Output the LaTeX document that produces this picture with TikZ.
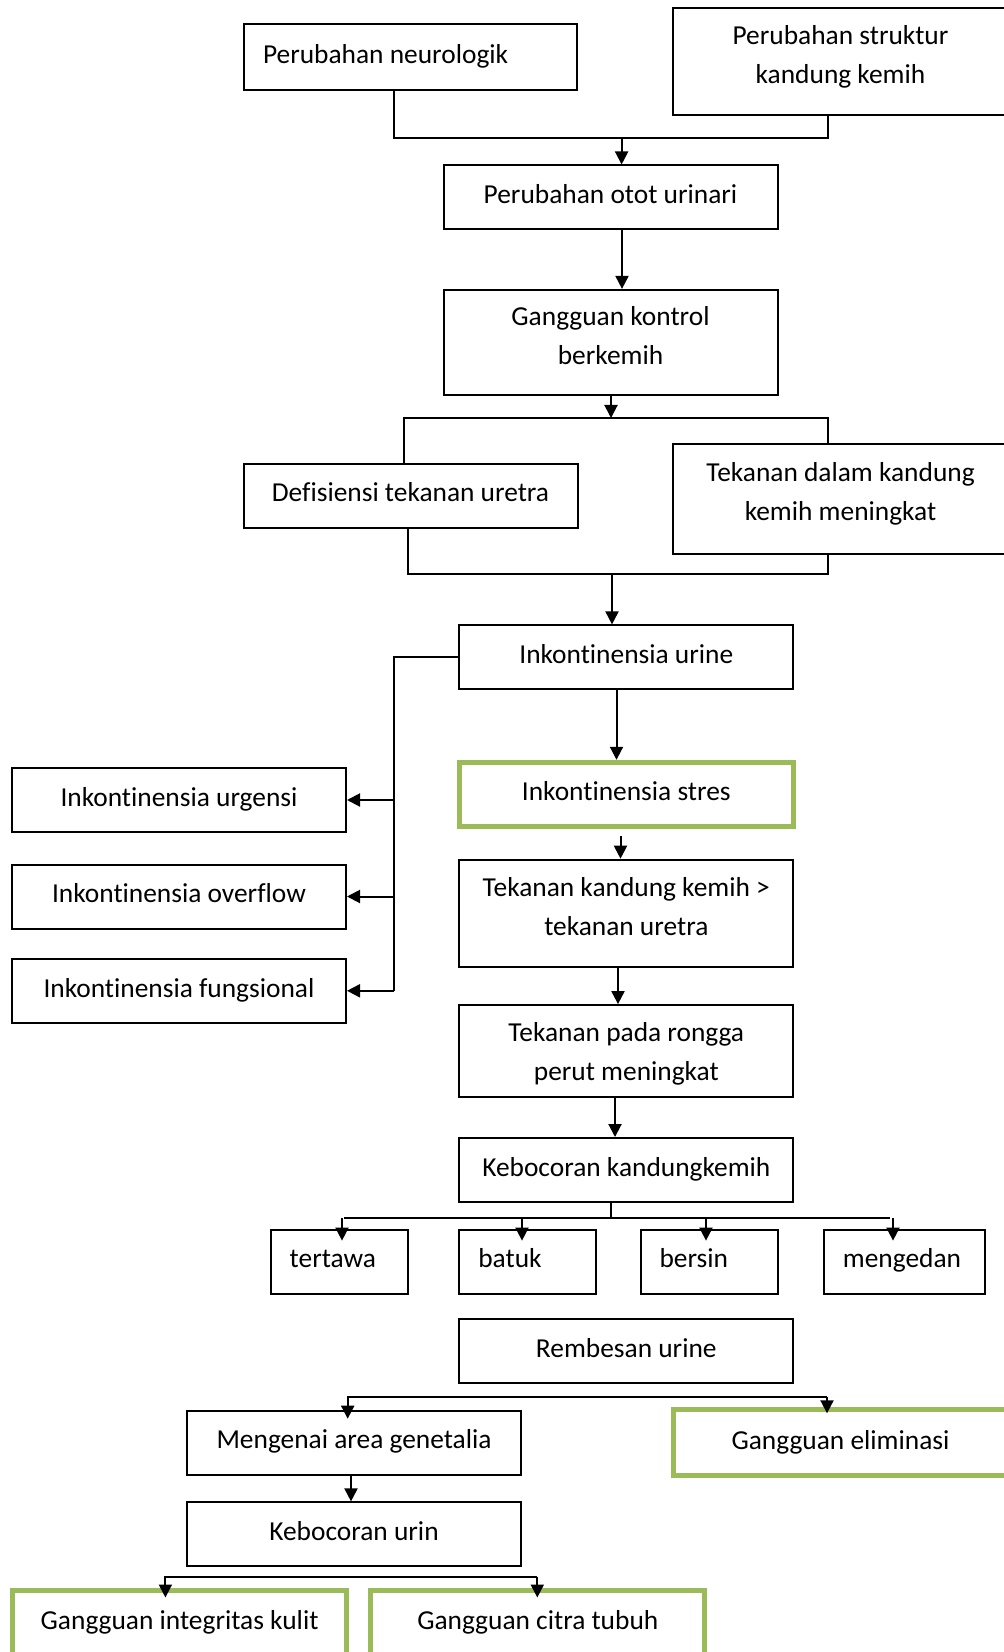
\documentclass[tikz,border=0pt]{standalone}
\usepackage{fontspec}
\setmainfont[Ligatures=NoCommon]{Carlito}
\usetikzlibrary{arrows.meta,calc}
\definecolor{olivegreen}{HTML}{9BBB59}

\begin{document}
\begin{tikzpicture}[x=0.5pt,y=-0.5pt,
    box/.style={draw,line width=1pt,minimum width=167pt,minimum height=32pt,align=center,
      font=\fontsize{13.7}{19.5}\selectfont,text height=10.3pt,text depth=4.1pt,inner sep=2pt},
    twoline/.style={text height=#1},
    twoline/.default=25.8pt,
    greenbox/.style={box,draw=olivegreen,line width=2.5pt},
    causebox/.style={box,minimum width=0pt,text width=#1,align=flush left,inner xsep=9.5pt},
    link/.style={line width=1pt},
    arr/.style={link,-{Triangle[length=6.5pt,width=6.5pt]}}]
    \useasboundingbox (0,0) rectangle (1004,1652);
    \fill[white] (0,0) rectangle (1004,1652);
    \clip (0,0) rectangle (1004,1652);

    \node[causebox=147.5pt,minimum height=33pt] (neuro) at (410.5,57) {Perubahan neurologik};
    \node[box,twoline,minimum width=167.5pt,minimum height=53.5pt] (struktur) at (840.5,61.5) {Perubahan struktur\\kandung kemih};
    \node[box] (otot) at (610.5,197.5) {Perubahan otot urinari};
    \node[box,twoline,minimum height=52.5pt] (kontrol) at (610.5,342.4) {Gangguan kontrol\\berkemih};
    \node[box] (defisiensi) at (410.5,495.7) {Defisiensi tekanan uretra};
    \node[box,twoline,minimum width=167.5pt,minimum height=55pt] (tekdalam) at (840.5,498.8) {Tekanan dalam kandung\\kemih meningkat};
    \node[box] (inkurine) at (626.3,657.4) {Inkontinensia urine};
    \node[greenbox] (stres) at (626.3,794.3) {Inkontinensia stres};
    \node[box,twoline,minimum height=53.7pt] (tekkandung) at (626.3,913.4) {Tekanan kandung kemih >\\tekanan uretra};
    \node[box,twoline=33.8pt,minimum height=45.8pt] (rongga) at (626.3,1050.9) {Tekanan pada rongga\\perut meningkat};
    \node[box] (kebocoran) at (626.3,1170) {Kebocoran kandungkemih};
    \node[causebox=49.5pt] (tertawa) at (339.2,1261.6) {tertawa};
    \node[causebox=49.5pt] (batuk) at (527.8,1261.6) {batuk};
    \node[causebox=49.5pt] (bersin) at (709,1261.6) {bersin};
    \node[causebox=61.5pt] (mengedan) at (904.4,1261.6) {mengedan};
    \node[box] (rembesan) at (626.3,1351) {Rembesan urine};
    \node[box] (genetalia) at (354,1442.7) {Mengenai area genetalia};
    \node[greenbox,minimum width=167.5pt,minimum height=33pt] (eliminasi) at (840.5,1442.8) {Gangguan eliminasi};
    \node[box] (bocorurin) at (354,1534.4) {Kebocoran urin};
    \node[greenbox,minimum height=33pt] (integritas) at (179.6,1623) {Gangguan integritas kulit};
    \node[greenbox,minimum height=33pt] (citra) at (537.8,1623) {Gangguan citra tubuh};
    \node[box] (urgensi) at (179,800) {Inkontinensia urgensi};
    \node[box] (overflow) at (179,896.5) {Inkontinensia overflow};
    \node[box] (fungsional) at (179,990.8) {Inkontinensia fungsional};

    \coordinate (jtop) at (621.6,138);
    \draw[link] (neuro.south -| 394,0) |- (jtop) -| (struktur.south -| 828,0);
    \draw[arr] (jtop) -- (jtop |- otot.north);
    \draw[arr] (otot.south -| 622,0) -- (kontrol.north -| 622,0);
    \coordinate (jsplit) at (611,418);
    \draw[arr] (kontrol.south -| jsplit) -- (jsplit);
    \draw[link] (defisiensi.north -| 403.5,0) |- (jsplit) -| (tekdalam.north -| 828,0);
    \coordinate (jmerge) at (612,574);
    \draw[link] (defisiensi.south -| 407.7,0) |- (jmerge) -| (tekdalam.south -| 828,0);
    \draw[arr] (jmerge) -- (jmerge |- inkurine.north);
    \draw[arr] (inkurine.south -| 616.5,0) -- (stres.north -| 616.5,0);

    \coordinate (jleft) at (394,0);
    \draw[link] (inkurine.west) -| (jleft |- fungsional.east);
    \foreach \n in {urgensi,overflow,fungsional}
        \draw[arr] (jleft |- \n.east) -- (\n.east);

    \draw[arr] ($(stres.south -| 620.5,0)+(0,7)$) -- (tekkandung.north -| 620.5,0);
    \draw[arr] (tekkandung.south -| 618,0) -- (rongga.north -| 618,0);
    \draw[arr] (rongga.south -| 615,0) -- (kebocoran.north -| 615,0);

    \coordinate (jcause) at (611,1218);
    \draw[link] (kebocoran.south -| jcause) -- (jcause);
    \draw[link] (jcause -| 344,0) -- (jcause -| 890,0);
    \foreach \n/\x in {tertawa/342,batuk/522,bersin/706,mengedan/893}
        \draw[arr] (jcause -| \x,0) -- ($(\n.north -| \x,0)+(0,12)$);

    \coordinate (jeffL) at (347.7,1397);
    \coordinate (jeffR) at (827,1397);
    \draw[arr] (jeffR) -| ($(genetalia.north -| jeffL)+(0,9)$);
    \draw[arr] (jeffR) -- ($(eliminasi.north -| jeffR)+(0,6)$);
    \draw[arr] (genetalia.south -| 351,0) -- (bocorurin.north -| 351,0);

    \coordinate (jskinL) at (165.4,1577);
    \coordinate (jskinR) at (537.3,1577);
    \draw[arr] (jskinR) -| ($(integritas.north -| jskinL)+(0,10)$);
    \draw[arr] (jskinR) -- ($(citra.north -| jskinR)+(0,10)$);
\end{tikzpicture}
\end{document}
